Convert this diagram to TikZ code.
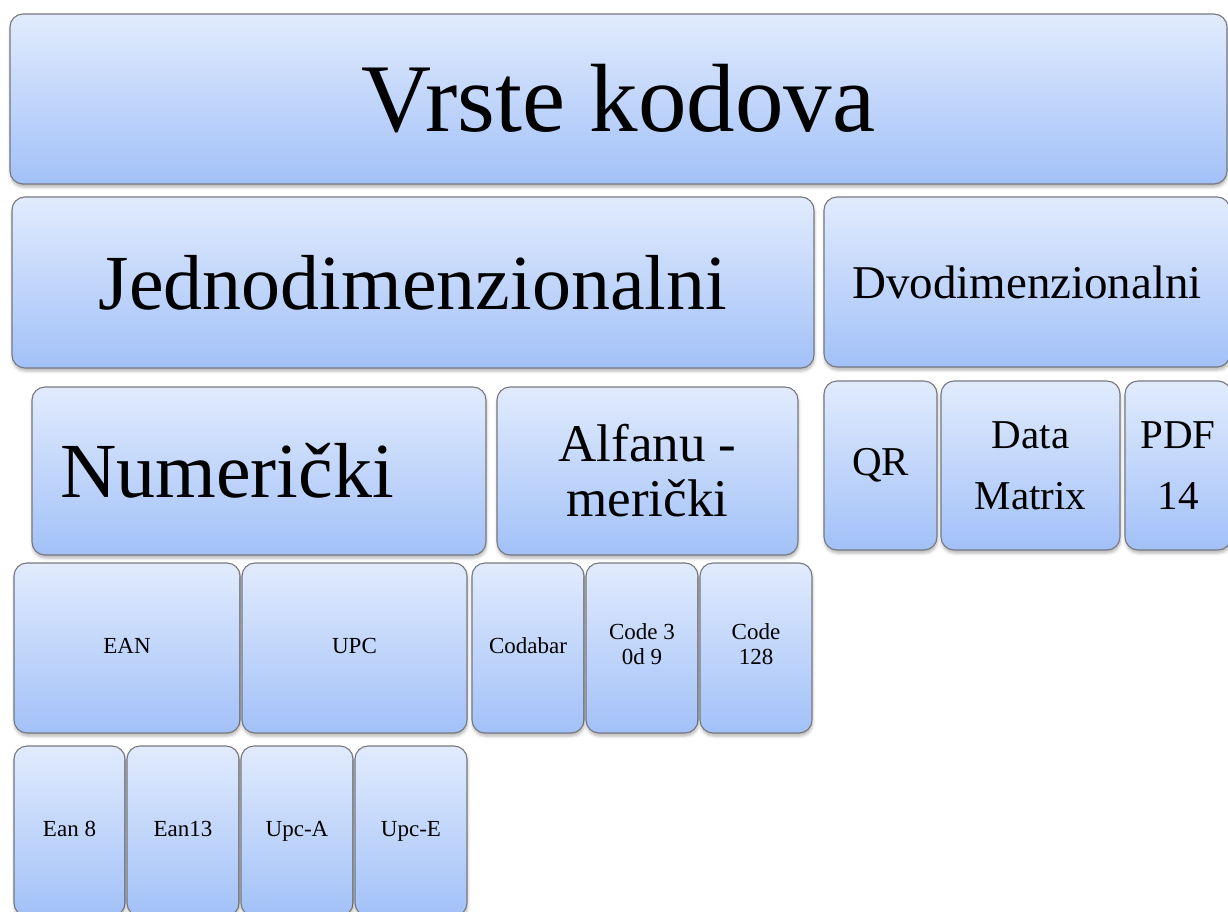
\documentclass[tikz,border=0pt]{standalone}
\usepackage{fontspec}
\setmainfont{Liberation Serif}
\usepackage{tikz}
\usetikzlibrary{shadows.blur}
\definecolor{kodtop}{RGB}{225,235,253}
\definecolor{kodbottom}{RGB}{162,193,248}
\definecolor{kodline}{RGB}{118,120,126}

\begin{document}
\begin{tikzpicture}[
x = 1pt, y = -1pt,
kodrect/.style={rectangle, align = center, rounded corners = 13pt,
draw = kodline, line width = 1.1pt, top color = kodtop, bottom color = kodbottom,
inner sep = 0pt, outer sep = 0pt, minimum height = 169pt,
blur shadow = {shadow xshift = 0.5pt, shadow yshift = -3pt, shadow blur radius = 3pt, shadow opacity = 30}},
naslov/.style={font = \fontsize{97}{110}\selectfont},
velik/.style={font = \fontsize{78}{90}\selectfont},
srednji/.style={font = \fontsize{47}{56}\selectfont},
alfa/.style={font = \fontsize{53}{55}\selectfont},
dvod/.style={font = \fontsize{41}{61}\selectfont},
mali/.style={font = \fontsize{23}{25}\selectfont,
execute at begin node = \strut, execute at end node = \strut}]

\useasboundingbox (0,0) rectangle (1228,912);
\clip (0,0) rectangle (1228,912);

% naslov
\node[kodrect, naslov, minimum width = 1217pt, minimum height = 170pt] (VK) at (618.5,99) {Vrste kodova};

% druga razina
\node[kodrect, velik, minimum width = 802pt, minimum height = 171pt] (JD) at (413,282.5) {Jednodimenzionalni};
\node[kodrect, srednji, minimum width = 406pt, minimum height = 170pt] (DD) at (1027,282) {Dvodimenzionalni};

% treca razina
\node[kodrect, velik, minimum width = 454pt, minimum height = 168pt] (NUM) at (259,471) {Numerički\hspace*{64pt}};
\node[kodrect, alfa, minimum width = 301pt, minimum height = 168pt] (AN) at (647.5,471) {Alfanu -\\merički};
\node[kodrect, dvod, minimum width = 113pt] (QR) at (880.5,465.5) {QR};
\node[kodrect, dvod, minimum width = 179pt] (DM) at (1030.5,465.5) {Data\\Matrix};
\node[kodrect, dvod, minimum width = 106pt] (PDF) at (1178,465.5) {PDF\\14};

% cetvrta razina
\node[kodrect, mali, minimum width = 226pt, minimum height = 170pt] (EAN) at (127,648) {EAN};
\node[kodrect, mali, minimum width = 225pt, minimum height = 170pt] (UPC) at (354.5,648) {UPC};
\node[kodrect, mali, minimum width = 112pt, minimum height = 170pt] (CB) at (528,648) {Codabar};
\node[kodrect, mali, minimum width = 112pt, minimum height = 170pt] (C39) at (642,648) {Code 3\\0d 9};
\node[kodrect, mali, minimum width = 112pt, minimum height = 170pt] (C128) at (756,648) {Code\\128};

% peta razina
\node[kodrect, mali, minimum width = 111pt, minimum height = 170pt] (E8) at (69.5,831) {Ean 8};
\node[kodrect, mali, minimum width = 112pt, minimum height = 170pt] (E13) at (183,831) {Ean13};
\node[kodrect, mali, minimum width = 112pt, minimum height = 170pt] (UA) at (297,831) {Upc-A};
\node[kodrect, mali, minimum width = 112pt, minimum height = 170pt] (UE) at (411,831) {Upc-E};

\end{tikzpicture}
\end{document}
